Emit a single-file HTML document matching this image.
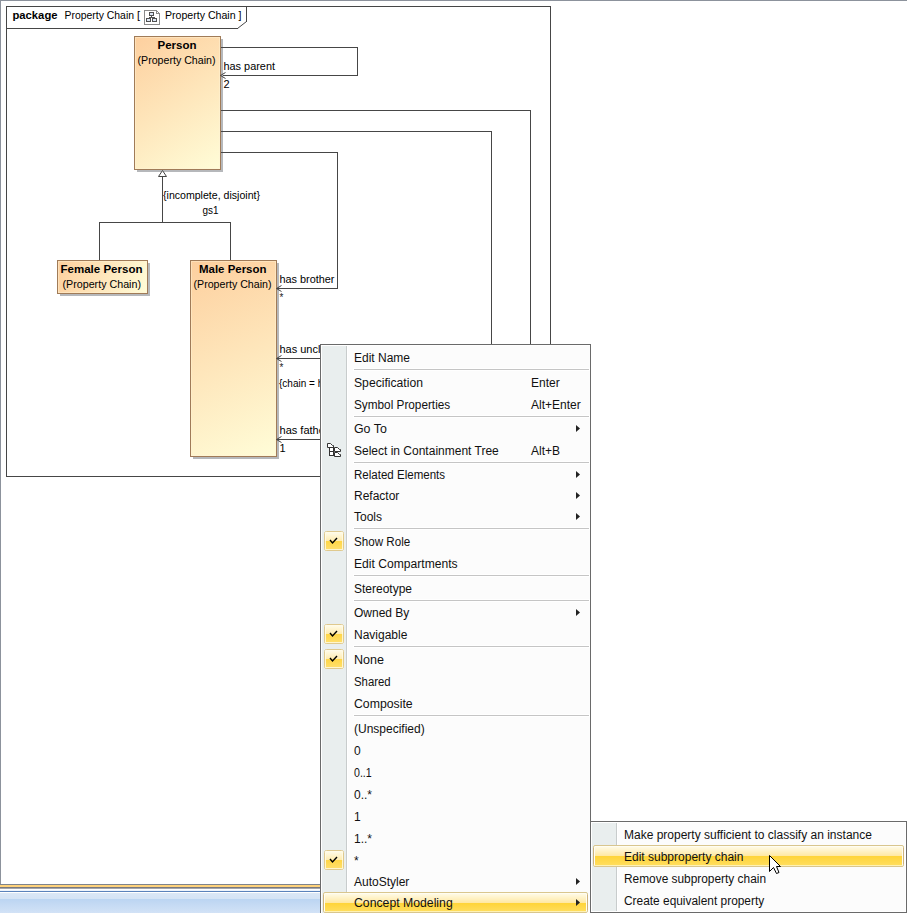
<!DOCTYPE html>
<html><head><meta charset="utf-8"><style>
html,body{margin:0;padding:0;background:#fff;}
body{width:907px;height:913px;overflow:hidden;position:relative;}
svg{position:absolute;left:0;top:0;display:block;}
text{font-family:"Liberation Sans", sans-serif;}
</style></head><body>
<svg width="907" height="913" viewBox="0 0 907 913">
<defs><linearGradient id="gP" gradientUnits="userSpaceOnUse" x1="134" y1="36" x2="221" y2="170"><stop offset="0" stop-color="#fdcf9e"/><stop offset="1" stop-color="#fffdd8"/></linearGradient><linearGradient id="gF" gradientUnits="userSpaceOnUse" x1="57" y1="260" x2="148" y2="294"><stop offset="0" stop-color="#fdcf9e"/><stop offset="1" stop-color="#fffdd8"/></linearGradient><linearGradient id="gM" gradientUnits="userSpaceOnUse" x1="190" y1="260" x2="277" y2="457"><stop offset="0" stop-color="#fdcf9e"/><stop offset="1" stop-color="#fffdd8"/></linearGradient><linearGradient id="gBar" x1="0" y1="0" x2="0" y2="1"><stop offset="0" stop-color="#dbe7f6"/><stop offset="0.3" stop-color="#d4e3f5"/><stop offset="0.32" stop-color="#bcd5f2"/><stop offset="1" stop-color="#d2e2f6"/></linearGradient><linearGradient id="gHi" x1="0" y1="0" x2="0" y2="1"><stop offset="0" stop-color="#fffce8"/><stop offset="0.48" stop-color="#ffe9a4"/><stop offset="0.5" stop-color="#ffd43c"/><stop offset="1" stop-color="#ffdf66"/></linearGradient><linearGradient id="gChk" x1="0" y1="0" x2="0" y2="1"><stop offset="0" stop-color="#fffdf0"/><stop offset="0.49" stop-color="#ffecb0"/><stop offset="0.5" stop-color="#ffd646"/><stop offset="1" stop-color="#ffe070"/></linearGradient><linearGradient id="hiT1" gradientUnits="userSpaceOnUse" x1="0" y1="894" x2="0" y2="903"><stop offset="0" stop-color="#fffae4"/><stop offset="1" stop-color="#ffe8a2"/></linearGradient><linearGradient id="hiB1" gradientUnits="userSpaceOnUse" x1="0" y1="903" x2="0" y2="911"><stop offset="0" stop-color="#ffd438"/><stop offset="1" stop-color="#ffdd5c"/></linearGradient><linearGradient id="hiT2" gradientUnits="userSpaceOnUse" x1="0" y1="847" x2="0" y2="856"><stop offset="0" stop-color="#fffae4"/><stop offset="1" stop-color="#ffe8a2"/></linearGradient><linearGradient id="hiB2" gradientUnits="userSpaceOnUse" x1="0" y1="856" x2="0" y2="865"><stop offset="0" stop-color="#ffd438"/><stop offset="1" stop-color="#ffdd5c"/></linearGradient></defs>
<rect x="0" y="0" width="907" height="1" fill="#8c929c"/>
<rect x="0" y="0" width="1" height="884" fill="#8c929c"/>
<rect x="6" y="6" width="545" height="1" fill="#464646"/>
<rect x="6" y="6" width="1" height="471" fill="#464646"/>
<rect x="550" y="6" width="1" height="471" fill="#464646"/>
<rect x="6" y="476" width="545" height="1" fill="#464646"/>
<rect x="6" y="28" width="232" height="1" fill="#464646"/>
<rect x="246" y="6" width="1" height="16" fill="#464646"/>
<path d="M237.5,28.5 L246.5,21.5" stroke="#464646" stroke-width="1" fill="none"/>
<text x="12.5" y="19" font-size="11" font-weight="bold" textLength="45" lengthAdjust="spacingAndGlyphs">package</text>
<text x="64.5" y="19" font-size="11" textLength="69.5" lengthAdjust="spacingAndGlyphs">Property Chain</text>
<text x="137" y="19" font-size="11">[</text>
<g shape-rendering="crispEdges">
<path d="M144.5,10.5 H156.5 L159.5,13.5 V24.5 H144.5 Z" fill="#fff" stroke="#8a8a8a"/>
<path d="M156.5,10.5 V13.5 H159.5" fill="none" stroke="#8a8a8a"/>
<rect x="149.5" y="12.5" width="4" height="3" fill="#dce6f4" stroke="#505050"/>
<rect x="146.5" y="18.5" width="4" height="3" fill="#dce6f4" stroke="#505050"/>
<rect x="152.5" y="18.5" width="4" height="3" fill="#dce6f4" stroke="#505050"/>
<path d="M151.5,16 V17.5 M148.5,17.5 H154.5 M148.5,17.5 V18 M154.5,17.5 V18" stroke="#505050" fill="none"/>
</g>
<text x="165" y="19" font-size="11" textLength="76.5" lengthAdjust="spacingAndGlyphs">Property Chain ]</text>
<rect x="221" y="47" width="137" height="1" fill="#464646"/>
<rect x="357" y="47" width="1" height="29" fill="#464646"/>
<rect x="221" y="75" width="137" height="1" fill="#464646"/>
<rect x="221" y="110" width="310" height="1" fill="#464646"/>
<rect x="530" y="110" width="1" height="235" fill="#464646"/>
<rect x="221" y="131" width="271" height="1" fill="#464646"/>
<rect x="491" y="131" width="1" height="214" fill="#464646"/>
<rect x="221" y="152" width="117" height="1" fill="#464646"/>
<rect x="337" y="152" width="1" height="137" fill="#464646"/>
<rect x="277" y="288" width="61" height="1" fill="#464646"/>
<rect x="277" y="358" width="44" height="1" fill="#464646"/>
<rect x="277" y="439" width="44" height="1" fill="#464646"/>
<rect x="162" y="177" width="1" height="46" fill="#464646"/>
<rect x="99" y="222" width="132" height="1" fill="#464646"/>
<rect x="99" y="222" width="1" height="39" fill="#464646"/>
<rect x="230" y="222" width="1" height="39" fill="#464646"/>
<rect x="137" y="39" width="86" height="133" fill="#b6b8bb"/>
<rect x="134" y="36" width="87" height="134" fill="url(#gP)"/>
<rect x="135.5" y="37.5" width="84" height="131" fill="none" stroke="#fff4d8" stroke-opacity="0.45"/>
<rect x="134.5" y="36.5" width="86" height="133" fill="none" stroke="#a07b58"/>
<rect x="60" y="263" width="90" height="33" fill="#b6b8bb"/>
<rect x="57" y="260" width="91" height="34" fill="url(#gF)"/>
<rect x="58.5" y="261.5" width="88" height="31" fill="none" stroke="#fff4d8" stroke-opacity="0.45"/>
<rect x="57.5" y="260.5" width="90" height="33" fill="none" stroke="#a07b58"/>
<rect x="193" y="263" width="86" height="196" fill="#b6b8bb"/>
<rect x="190" y="260" width="87" height="197" fill="url(#gM)"/>
<rect x="191.5" y="261.5" width="84" height="194" fill="none" stroke="#fff4d8" stroke-opacity="0.45"/>
<rect x="190.5" y="260.5" width="86" height="196" fill="none" stroke="#a07b58"/>
<rect x="221" y="47" width="5" height="1" fill="#464646"/>
<rect x="221" y="110" width="5" height="1" fill="#464646"/>
<rect x="221" y="131" width="5" height="1" fill="#464646"/>
<rect x="221" y="152" width="5" height="1" fill="#464646"/>
<rect x="277" y="288" width="5" height="1" fill="#464646"/>
<rect x="277" y="358" width="5" height="1" fill="#464646"/>
<rect x="277" y="439" width="5" height="1" fill="#464646"/>
<path d="M225.5,72.5 L220.5,75.5 L225.5,78.5" fill="none" stroke="#464646" stroke-width="1"/>
<path d="M281.5,285.5 L276.5,288.5 L281.5,291.5" fill="none" stroke="#464646" stroke-width="1"/>
<path d="M281.5,355.5 L276.5,358.5 L281.5,361.5" fill="none" stroke="#464646" stroke-width="1"/>
<path d="M281.5,436.5 L276.5,439.5 L281.5,442.5" fill="none" stroke="#464646" stroke-width="1"/>
<path d="M162.5,170.5 L166.5,176.5 L158.5,176.5 Z" fill="#fff" stroke="#464646"/>
<text x="157.5" y="49" font-size="11" font-weight="bold" textLength="39" lengthAdjust="spacingAndGlyphs">Person</text>
<text x="137.5" y="64" font-size="11" textLength="78" lengthAdjust="spacingAndGlyphs">(Property Chain)</text>
<text x="60.5" y="273" font-size="11" font-weight="bold" textLength="82" lengthAdjust="spacingAndGlyphs">Female Person</text>
<text x="62.5" y="288" font-size="11" textLength="78.5" lengthAdjust="spacingAndGlyphs">(Property Chain)</text>
<text x="199" y="273" font-size="11" font-weight="bold" textLength="67.5" lengthAdjust="spacingAndGlyphs">Male Person</text>
<text x="193.5" y="288" font-size="11" textLength="78" lengthAdjust="spacingAndGlyphs">(Property Chain)</text>
<text x="223.5" y="70" font-size="11" textLength="51.5" lengthAdjust="spacingAndGlyphs">has parent</text>
<text x="223.5" y="88" font-size="11">2</text>
<text x="163" y="199" font-size="11" textLength="97" lengthAdjust="spacingAndGlyphs">{incomplete, disjoint}</text>
<text x="202.5" y="213.5" font-size="11" textLength="16" lengthAdjust="spacingAndGlyphs">gs1</text>
<text x="279.5" y="283" font-size="11" textLength="55" lengthAdjust="spacingAndGlyphs">has brother</text>
<text x="279.5" y="300.5" font-size="10" fill="#222">*</text>
<text x="279.5" y="353" font-size="11" textLength="47" lengthAdjust="spacingAndGlyphs">has uncle</text>
<text x="279.5" y="370.5" font-size="10" fill="#222">*</text>
<text x="279" y="387" font-size="10">{chain = has</text>
<text x="279.5" y="434" font-size="11" textLength="49" lengthAdjust="spacingAndGlyphs">has father</text>
<text x="279.5" y="452" font-size="11">1</text>
<rect x="0" y="884" width="320" height="1" fill="#7e848c"/>
<rect x="0" y="885" width="320" height="2" fill="#ffd27a"/>
<rect x="0" y="887" width="320" height="1" fill="#7a7a7e"/>
<rect x="0" y="888" width="320" height="1" fill="#a4a6ac"/>
<rect x="0" y="889" width="320" height="1" fill="#ffffff"/>
<rect x="0" y="890" width="320" height="1" fill="#eef4fc"/>
<rect x="0" y="891" width="320" height="1" fill="#5b82bb"/>
<rect x="0" y="892" width="320" height="1" fill="#ffffff"/>
<rect x="0" y="893" width="320" height="20" fill="url(#gBar)"/>
<rect x="320" y="344" width="271" height="569" fill="#6a6a6a"/>
<rect x="321" y="345" width="269" height="568" fill="#fcfcfc"/>
<rect x="321" y="345" width="269" height="1" fill="#ffffff"/>
<rect x="321" y="345" width="1" height="568" fill="#ffffff"/>
<rect x="322" y="346" width="24" height="567" fill="#e9eeee"/>
<rect x="346" y="346" width="1" height="567" fill="#c8cccc"/>
<rect x="347" y="346" width="1" height="567" fill="#ffffff"/>
<rect x="323.5" y="892.5" width="264" height="20" rx="1.5" fill="#fffdf2" stroke="#d9c68e"/>
<rect x="325" y="894" width="261" height="9" fill="url(#hiT1)"/>
<rect x="325" y="903" width="261" height="8" fill="url(#hiB1)"/>
<rect x="325" y="911" width="261" height="1" fill="#fff2b4"/>
<rect x="323" y="895" width="1" height="15" fill="#cdb27c"/>
<rect x="587" y="895" width="1" height="15" fill="#cdb27c"/>
<text x="354" y="362" font-size="12" fill="#111">Edit Name</text>
<rect x="353" y="368" width="237" height="3" fill="#ffffff"/>
<rect x="354" y="369" width="235" height="1" fill="#c5c5c5"/>
<text x="354" y="387" font-size="12" fill="#111" textLength="69" lengthAdjust="spacingAndGlyphs">Specification</text>
<text x="531" y="387" font-size="12" fill="#111">Enter</text>
<text x="354" y="409" font-size="12" fill="#111" textLength="96.2" lengthAdjust="spacingAndGlyphs">Symbol Properties</text>
<text x="531" y="409" font-size="12" fill="#111">Alt+Enter</text>
<rect x="353" y="415" width="237" height="3" fill="#ffffff"/>
<rect x="354" y="416" width="235" height="1" fill="#c5c5c5"/>
<text x="354" y="433" font-size="12" fill="#111" textLength="32.8" lengthAdjust="spacingAndGlyphs">Go To</text>
<path d="M576,425 L580,428.5 L576,432 Z" fill="#222"/>
<text x="354" y="455" font-size="12" fill="#111">Select in Containment Tree</text>
<text x="531" y="455" font-size="12" fill="#111">Alt+B</text>
<rect x="353" y="461" width="237" height="3" fill="#ffffff"/>
<rect x="354" y="462" width="235" height="1" fill="#c5c5c5"/>
<text x="354" y="479" font-size="12" fill="#111" textLength="91.1" lengthAdjust="spacingAndGlyphs">Related Elements</text>
<path d="M576,471 L580,474.5 L576,478 Z" fill="#222"/>
<text x="354" y="500" font-size="12" fill="#111">Refactor</text>
<path d="M576,492 L580,495.5 L576,499 Z" fill="#222"/>
<text x="354" y="521" font-size="12" fill="#111">Tools</text>
<path d="M576,513 L580,516.5 L576,520 Z" fill="#222"/>
<rect x="353" y="527" width="237" height="3" fill="#ffffff"/>
<rect x="354" y="528" width="235" height="1" fill="#c5c5c5"/>
<rect x="324.5" y="531.5" width="19" height="19" rx="2" fill="url(#gChk)" stroke="#dfc98e"/>
<rect x="325.5" y="532.5" width="17" height="17" fill="none" stroke="#fffbe8" stroke-opacity="0.8"/>
<path d="M330,540 L332.5,543 L337,538" fill="none" stroke="#000" stroke-width="1.4"/>
<text x="354" y="546" font-size="12" fill="#111" textLength="56.3" lengthAdjust="spacingAndGlyphs">Show Role</text>
<text x="354" y="568" font-size="12" fill="#111" textLength="103.6" lengthAdjust="spacingAndGlyphs">Edit Compartments</text>
<rect x="353" y="574" width="237" height="3" fill="#ffffff"/>
<rect x="354" y="575" width="235" height="1" fill="#c5c5c5"/>
<text x="354" y="593" font-size="12" fill="#111">Stereotype</text>
<rect x="353" y="599" width="237" height="3" fill="#ffffff"/>
<rect x="354" y="600" width="235" height="1" fill="#c5c5c5"/>
<text x="354" y="617" font-size="12" fill="#111">Owned By</text>
<path d="M576,609 L580,612.5 L576,616 Z" fill="#222"/>
<rect x="324.5" y="624.5" width="19" height="19" rx="2" fill="url(#gChk)" stroke="#dfc98e"/>
<rect x="325.5" y="625.5" width="17" height="17" fill="none" stroke="#fffbe8" stroke-opacity="0.8"/>
<path d="M330,633 L332.5,636 L337,631" fill="none" stroke="#000" stroke-width="1.4"/>
<text x="354" y="639" font-size="12" fill="#111">Navigable</text>
<rect x="353" y="645" width="237" height="3" fill="#ffffff"/>
<rect x="354" y="646" width="235" height="1" fill="#c5c5c5"/>
<rect x="324.5" y="649.5" width="19" height="19" rx="2" fill="url(#gChk)" stroke="#dfc98e"/>
<rect x="325.5" y="650.5" width="17" height="17" fill="none" stroke="#fffbe8" stroke-opacity="0.8"/>
<path d="M330,658 L332.5,661 L337,656" fill="none" stroke="#000" stroke-width="1.4"/>
<text x="354" y="664" font-size="12" fill="#111" textLength="30" lengthAdjust="spacingAndGlyphs">None</text>
<text x="354" y="686" font-size="12" fill="#111" textLength="36.7" lengthAdjust="spacingAndGlyphs">Shared</text>
<text x="354" y="708" font-size="12" fill="#111" textLength="58.7" lengthAdjust="spacingAndGlyphs">Composite</text>
<rect x="353" y="714" width="237" height="3" fill="#ffffff"/>
<rect x="354" y="715" width="235" height="1" fill="#c5c5c5"/>
<text x="354" y="733" font-size="12" fill="#111">(Unspecified)</text>
<text x="354" y="755" font-size="12" fill="#111">0</text>
<text x="354" y="777" font-size="12" fill="#111" textLength="17.7" lengthAdjust="spacingAndGlyphs">0..1</text>
<text x="354" y="799" font-size="12" fill="#111">0..*</text>
<text x="354" y="821" font-size="12" fill="#111">1</text>
<text x="354" y="843" font-size="12" fill="#111">1..*</text>
<rect x="324.5" y="850.5" width="19" height="19" rx="2" fill="url(#gChk)" stroke="#dfc98e"/>
<rect x="325.5" y="851.5" width="17" height="17" fill="none" stroke="#fffbe8" stroke-opacity="0.8"/>
<path d="M330,859 L332.5,862 L337,857" fill="none" stroke="#000" stroke-width="1.4"/>
<text x="354" y="865" font-size="12" fill="#111">*</text>
<text x="354" y="886" font-size="12" fill="#111">AutoStyler</text>
<path d="M576,878 L580,881.5 L576,885 Z" fill="#222"/>
<text x="354" y="907" font-size="12" fill="#111" textLength="98.7" lengthAdjust="spacingAndGlyphs">Concept Modeling</text>
<path d="M576,899 L580,902.5 L576,906 Z" fill="#222"/>
<g fill="#fff" stroke="#333">
<path d="M327.5,447.5 V443.5 H330.5 L332.5,445.5 H333.5 V447.5 Z"/>
<rect x="329.5" y="447.5" width="4" height="4"/>
<rect x="329.5" y="451.5" width="4" height="4"/>
<path d="M334.5,451.5 V447.5 H337.5 L339.5,449.5 H340.5 V451.5 Z"/>
<path d="M334.5,456.5 V452.5 H337.5 L339.5,454.5 H340.5 V456.5 Z"/>
</g>
<rect x="590" y="821" width="317" height="92" fill="#6a6a6a"/>
<rect x="591" y="822" width="315" height="90" fill="#fcfcfc"/>
<rect x="591" y="822" width="315" height="1" fill="#ffffff"/>
<rect x="591" y="822" width="1" height="90" fill="#ffffff"/>
<rect x="591" y="911" width="315" height="1" fill="#ffffff"/>
<rect x="905" y="822" width="1" height="90" fill="#ffffff"/>
<rect x="592" y="823" width="24" height="88" fill="#e9eeee"/>
<rect x="616" y="823" width="1" height="88" fill="#c8cccc"/>
<rect x="617" y="823" width="1" height="88" fill="#ffffff"/>
<rect x="593.5" y="845.5" width="310" height="21" rx="1.5" fill="#fffdf2" stroke="#d9c68e"/>
<rect x="595" y="847" width="307" height="9" fill="url(#hiT2)"/>
<rect x="595" y="856" width="307" height="9" fill="url(#hiB2)"/>
<rect x="595" y="865" width="307" height="1" fill="#fff2b4"/>
<rect x="593" y="848" width="1" height="16" fill="#cdb27c"/>
<rect x="903" y="848" width="1" height="16" fill="#cdb27c"/>
<text x="624" y="839" font-size="12" fill="#111">Make property sufficient to classify an instance</text>
<text x="624" y="861" font-size="12" fill="#111">Edit subproperty chain</text>
<text x="624" y="883" font-size="12" fill="#111" textLength="142.0" lengthAdjust="spacingAndGlyphs">Remove subproperty chain</text>
<text x="624" y="905" font-size="12" fill="#111" textLength="140.2" lengthAdjust="spacingAndGlyphs">Create equivalent property</text>
<path d="M769.5,855.5 L769.5,871.5 L773.5,867.5 L776.5,873.5 L779,872.5 L776.5,866.5 L780.5,866.5 Z" fill="#fff" stroke="#000" stroke-width="1" stroke-linejoin="miter"/>
</svg>
</body></html>
